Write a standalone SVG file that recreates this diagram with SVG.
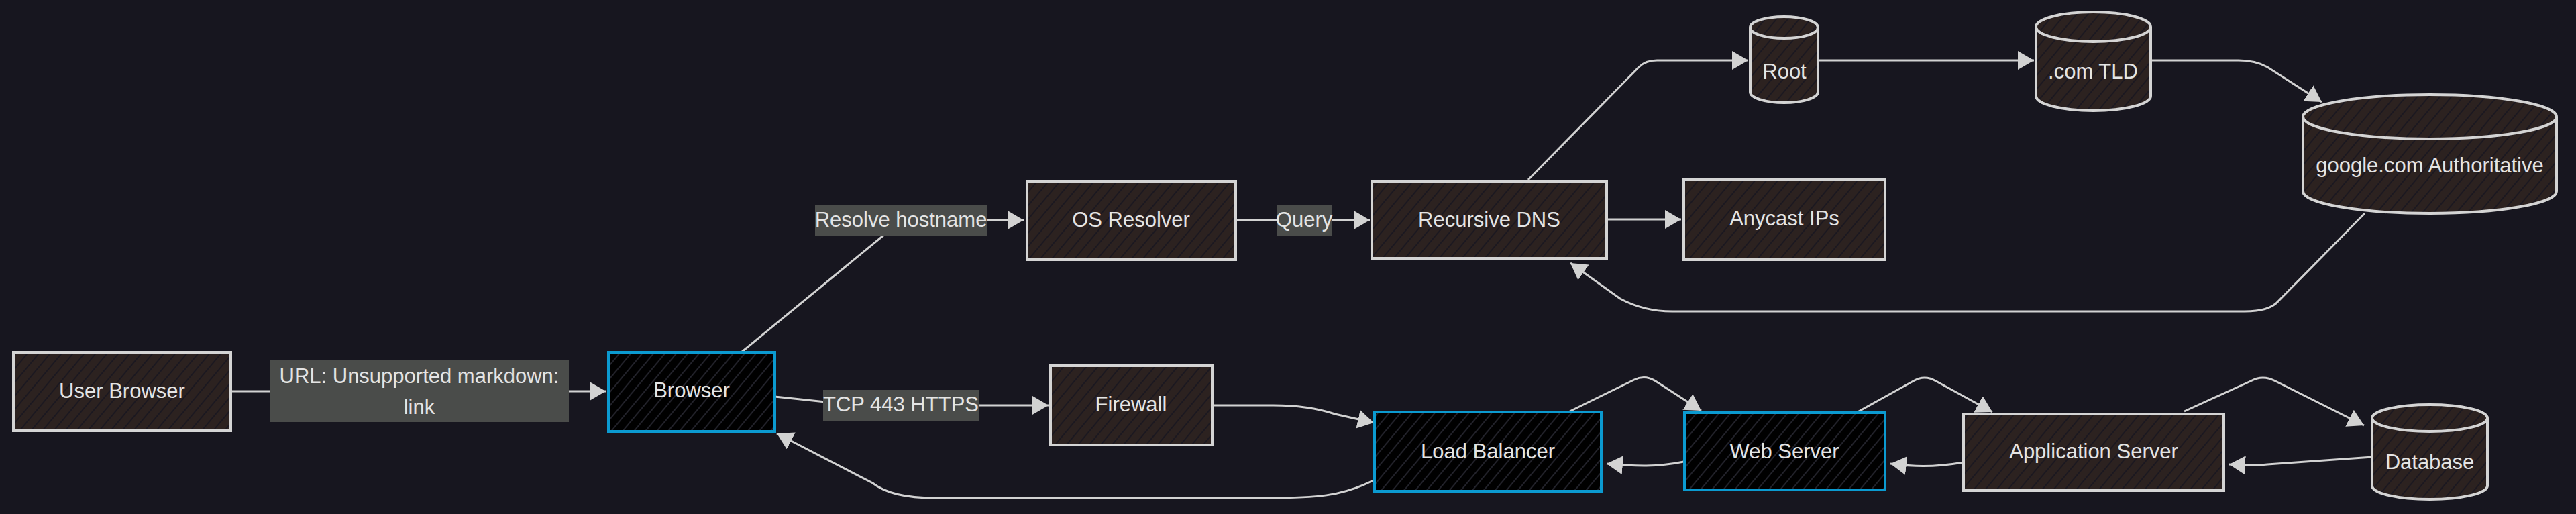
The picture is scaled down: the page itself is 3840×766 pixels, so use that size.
<svg xmlns="http://www.w3.org/2000/svg" width="3840" height="766" viewBox="0 0 3840 766">
<defs>
<pattern id="hb" patternUnits="userSpaceOnUse" width="13" height="13" patternTransform="rotate(40)">
<rect width="13" height="13" fill="#2c2220"/>
<line x1="6" y1="0" x2="6" y2="13" stroke="#1b1820" stroke-width="2"/>
</pattern>
<pattern id="hk" patternUnits="userSpaceOnUse" width="13" height="13" patternTransform="rotate(40)">
<rect width="13" height="13" fill="#000"/>
<line x1="6" y1="0" x2="6" y2="13" stroke="#22222a" stroke-width="2"/>
</pattern>
<marker id="ah" markerUnits="userSpaceOnUse" markerWidth="26" markerHeight="28" refX="24" refY="14" orient="auto">
<path d="M0,0 L24,14 L0,28 Z" fill="#d2d2d2"/>
</marker>
<style>
.n{fill:url(#hb);stroke:#d4d4d4;stroke-width:4}
.b{fill:url(#hk);stroke:#0b9ad0;stroke-width:4}
.e{fill:none;stroke:#d2d2d2;stroke-width:3;marker-end:url(#ah)}
.lb{fill:#4a4c4a}
text{font-family:"Liberation Sans",Arial,sans-serif;font-size:31px;fill:#e4e4e4;text-anchor:middle}
</style>
</defs>
<rect width="3840" height="766" fill="#17161f"/>
<g id="connectors">
<path class="e" d="M344,583 L903,583"/>
<path class="e" d="M1105,525 L1335,336 Q1345,328 1360,328 L1526,328"/>
<path class="e" d="M1842,328 L2042,328"/>
<path class="e" d="M2278,268 L2443,100 Q2453,90 2470,90 L2606,90"/>
<path class="e" d="M2395,327 L2506,327"/>
<path class="e" d="M2710,90 L3032,90"/>
<path class="e" d="M3206,90 L3337,90 Q3362,90 3380,100 L3461,152"/>
<path class="e" d="M3525,318 L3396,449 Q3383,464 3346,464 L2493,464 Q2450,464 2415,445 L2341,392"/>
<path class="e" d="M1155,591 L1240,600 Q1246,604 1258,604 L1563,604"/>
<path class="e" d="M1807,604 L1898,604 Q1950,604 1990,617 L2048,630"/>
<path class="e" d="M2049,715 C2000,740 1960,742 1890,742 L1393,742 C1350,742 1320,735 1301,720 L1158,646"/>
<path class="e" d="M2340,613 L2436,566 Q2452,558 2468,568 L2536,612"/>
<path class="e" d="M2769,614 L2852,568 Q2869,558 2886,568 L2970,614"/>
<path class="e" d="M3256,613 L3355,568 Q3373,558 3392,568 L3524,634"/>
<path class="e" d="M2510,688 C2470,696 2440,695 2395,691"/>
<path class="e" d="M2927,689 C2880,697 2850,695 2818,691"/>
<path class="e" d="M3537,681 L3380,692 Q3360,694 3323,692"/>
</g>
<g id="label-url"><rect class="lb" x="402" y="537" width="446" height="92"/><text x="625" y="571">URL: Unsupported markdown:</text><text x="625" y="617">link</text></g>
<g id="label-resolve"><rect class="lb" x="1215" y="305" width="257" height="47"/><text x="1343" y="338">Resolve hostname</text></g>
<g id="label-query"><rect class="lb" x="1903" y="305" width="83" height="47"/><text x="1944" y="338">Query</text></g>
<g id="label-tcp"><rect class="lb" x="1227" y="581" width="233" height="46"/><text x="1343" y="613">TCP 443 HTTPS</text></g>
<g id="user-browser"><rect class="n" x="20" y="525" width="324" height="117"/><text x="182" y="593">User Browser</text></g>
<g id="browser"><rect class="b" x="907" y="525" width="248" height="118"/><text x="1031" y="592">Browser</text></g>
<g id="os-resolver"><rect class="n" x="1531" y="270" width="311" height="117"/><text x="1686" y="338">OS Resolver</text></g>
<g id="recursive-dns"><rect class="n" x="2045" y="270" width="350" height="115"/><text x="2220" y="338">Recursive DNS</text></g>
<g id="anycast"><rect class="n" x="2510" y="268" width="300" height="119"/><text x="2660" y="336">Anycast IPs</text></g>
<g id="root"><path class="n" d="M2609,41 L2609,137 A50.5,16 0 0 0 2710,137 L2710,41 A50.5,16 0 0 0 2609,41 Z"/><path class="n" d="M2609,41 A50.5,16 0 0 0 2710,41"/><text x="2660" y="117">Root</text></g>
<g id="tld"><path class="n" d="M3035,40 L3035,143 A85.5,22 0 0 0 3206,143 L3206,40 A85.5,22 0 0 0 3035,40 Z"/><path class="n" d="M3035,40 A85.5,22 0 0 0 3206,40"/><text x="3120" y="117">.com TLD</text></g>
<g id="google"><path class="n" d="M3433,174 L3433,285 A189,33 0 0 0 3811,285 L3811,174 A189,33 0 0 0 3433,174 Z"/><path class="n" d="M3433,174 A189,33 0 0 0 3811,174"/><text x="3622" y="257">google.com Authoritative</text></g>
<g id="firewall"><rect class="n" x="1566" y="545" width="241" height="118"/><text x="1686" y="613">Firewall</text></g>
<g id="load-balancer"><rect class="b" x="2049" y="614" width="338" height="118"/><text x="2218" y="683">Load Balancer</text></g>
<g id="web-server"><rect class="b" x="2511" y="615" width="299" height="115"/><text x="2660" y="683">Web Server</text></g>
<g id="app-server"><rect class="n" x="2927" y="617" width="388" height="114"/><text x="3121" y="683">Application Server</text></g>
<g id="database"><path class="n" d="M3536,623 L3536,724 A86,20 0 0 0 3708,724 L3708,623 A86,20 0 0 0 3536,623 Z"/><path class="n" d="M3536,623 A86,20 0 0 0 3708,623"/><text x="3622" y="699">Database</text></g>
</svg>
